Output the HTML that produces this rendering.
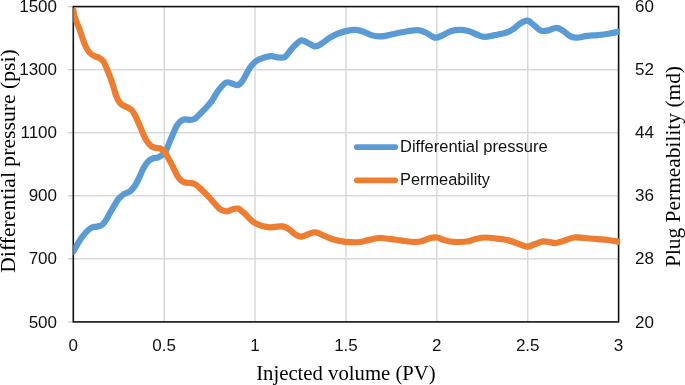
<!DOCTYPE html>
<html><head><meta charset="utf-8"><style>
html,body{margin:0;padding:0;background:#fff;width:685px;height:385px;overflow:hidden}
svg{display:block;will-change:transform}
</style></head><body>
<svg width="685" height="385" viewBox="0 0 685 385">
<rect width="685" height="385" fill="#fff"/>
<defs><clipPath id="pa"><rect x="73.30" y="7.40" width="546.80" height="314.50"/></clipPath></defs>
<g stroke="#d9d9d9" stroke-width="1.5"><line x1="164.18" y1="6.60" x2="164.18" y2="321.90"/><line x1="255.07" y1="6.60" x2="255.07" y2="321.90"/><line x1="345.95" y1="6.60" x2="345.95" y2="321.90"/><line x1="436.83" y1="6.60" x2="436.83" y2="321.90"/><line x1="527.72" y1="6.60" x2="527.72" y2="321.90"/><line x1="73.30" y1="258.84" x2="618.60" y2="258.84"/><line x1="73.30" y1="195.78" x2="618.60" y2="195.78"/><line x1="73.30" y1="132.72" x2="618.60" y2="132.72"/><line x1="73.30" y1="69.66" x2="618.60" y2="69.66"/></g>
<g stroke="#c8c8c8" stroke-width="1.2"><line x1="68" y1="321.90" x2="73.30" y2="321.90"/><line x1="68" y1="258.84" x2="73.30" y2="258.84"/><line x1="68" y1="195.78" x2="73.30" y2="195.78"/><line x1="68" y1="132.72" x2="73.30" y2="132.72"/><line x1="68" y1="69.66" x2="73.30" y2="69.66"/><line x1="68" y1="6.60" x2="73.30" y2="6.60"/></g>
<rect x="73.30" y="6.60" width="545.30" height="315.30" fill="none" stroke="#111" stroke-width="1.6"/>
<g clip-path="url(#pa)" fill="none" stroke-width="6.2" stroke-linecap="round" stroke-linejoin="round">
<path stroke="#5b9bd5" d="M73.30,251.40 C74.15,249.93 76.70,245.30 78.40,242.60 C80.10,239.90 81.80,237.35 83.50,235.20 C85.20,233.05 87.13,231.00 88.60,229.70 C90.07,228.40 90.93,227.92 92.30,227.40 C93.67,226.88 95.37,226.92 96.80,226.60 C98.23,226.28 99.68,226.13 100.90,225.50 C102.12,224.87 103.12,223.92 104.10,222.80 C105.08,221.68 105.90,220.30 106.80,218.80 C107.70,217.30 108.58,215.43 109.50,213.80 C110.42,212.17 111.50,210.38 112.30,209.00 C113.10,207.62 113.25,207.20 114.30,205.50 C115.35,203.80 117.12,200.62 118.60,198.80 C120.08,196.98 121.97,195.53 123.20,194.60 C124.43,193.67 124.75,193.82 126.00,193.20 C127.25,192.58 129.08,192.35 130.70,190.90 C132.32,189.45 134.15,187.00 135.70,184.50 C137.25,182.00 138.68,178.63 140.00,175.90 C141.32,173.17 142.28,170.48 143.60,168.10 C144.92,165.72 146.35,163.23 147.90,161.60 C149.45,159.97 151.12,159.03 152.90,158.30 C154.68,157.57 156.55,158.22 158.60,157.20 C160.65,156.18 163.45,154.55 165.20,152.20 C166.95,149.85 167.80,146.13 169.10,143.10 C170.40,140.07 171.82,136.72 173.00,134.00 C174.18,131.28 175.02,128.87 176.20,126.80 C177.38,124.73 178.68,122.83 180.10,121.60 C181.52,120.37 183.07,119.68 184.70,119.40 C186.33,119.12 188.28,119.97 189.90,119.90 C191.52,119.83 193.10,119.62 194.40,119.00 C195.70,118.38 196.07,117.75 197.70,116.20 C199.33,114.65 201.82,112.30 204.20,109.70 C206.58,107.10 209.63,103.83 212.00,100.60 C214.37,97.37 216.03,93.32 218.40,90.30 C220.77,87.28 223.82,83.58 226.20,82.50 C228.58,81.42 230.75,83.37 232.70,83.80 C234.65,84.23 236.17,85.75 237.90,85.10 C239.63,84.45 241.15,82.72 243.10,79.90 C245.05,77.08 247.62,71.18 249.60,68.20 C251.58,65.22 253.20,63.57 255.00,62.00 C256.80,60.43 257.77,59.77 260.40,58.80 C263.03,57.83 267.77,56.42 270.80,56.20 C273.83,55.98 276.22,57.40 278.60,57.50 C280.98,57.60 282.93,58.22 285.10,56.80 C287.27,55.38 289.02,51.70 291.60,49.00 C294.18,46.30 298.02,41.68 300.60,40.60 C303.18,39.52 304.72,41.53 307.10,42.50 C309.48,43.47 312.52,46.18 314.90,46.40 C317.28,46.62 319.02,45.18 321.40,43.80 C323.78,42.42 326.38,39.83 329.20,38.10 C332.02,36.37 335.20,34.65 338.30,33.40 C341.40,32.15 344.92,31.18 347.80,30.60 C350.68,30.02 353.00,29.72 355.60,29.90 C358.20,30.08 360.80,30.83 363.40,31.70 C366.00,32.57 368.60,34.32 371.20,35.10 C373.80,35.88 376.40,36.32 379.00,36.40 C381.60,36.48 383.78,36.13 386.80,35.60 C389.82,35.07 393.65,33.93 397.10,33.20 C400.55,32.47 404.03,31.72 407.50,31.20 C410.97,30.68 414.87,29.88 417.90,30.10 C420.93,30.32 423.32,31.45 425.70,32.50 C428.08,33.55 430.40,35.53 432.20,36.40 C434.00,37.27 434.70,37.92 436.50,37.70 C438.30,37.48 440.62,36.18 443.00,35.10 C445.38,34.02 447.98,32.07 450.80,31.20 C453.62,30.33 456.87,29.90 459.90,29.90 C462.93,29.90 466.18,30.43 469.00,31.20 C471.82,31.97 474.22,33.55 476.80,34.50 C479.38,35.45 481.48,36.80 484.50,36.90 C487.52,37.00 491.22,35.83 494.90,35.10 C498.58,34.37 503.57,33.50 506.60,32.50 C509.63,31.50 510.93,30.53 513.10,29.10 C515.27,27.67 517.43,25.28 519.60,23.90 C521.77,22.52 524.52,21.23 526.10,20.80 C527.68,20.37 527.73,20.52 529.10,21.30 C530.47,22.08 532.35,23.95 534.30,25.50 C536.25,27.05 538.63,29.75 540.80,30.60 C542.97,31.45 544.70,31.07 547.30,30.60 C549.90,30.13 553.80,27.80 556.40,27.80 C559.00,27.80 560.53,29.17 562.90,30.60 C565.27,32.03 568.23,35.22 570.60,36.40 C572.97,37.58 574.28,37.80 577.10,37.70 C579.92,37.60 584.03,36.23 587.50,35.80 C590.97,35.37 594.43,35.43 597.90,35.10 C601.37,34.77 604.83,34.38 608.30,33.80 C611.77,33.22 616.97,31.97 618.70,31.60"/>
<path stroke="#ed7d31" d="M73.30,9.60 C73.52,10.78 73.88,14.22 74.60,16.70 C75.32,19.18 76.73,22.28 77.60,24.50 C78.47,26.72 78.92,27.53 79.80,30.00 C80.68,32.47 81.87,36.45 82.90,39.30 C83.93,42.15 84.83,44.82 86.00,47.10 C87.17,49.38 88.47,51.48 89.90,53.00 C91.33,54.52 93.03,55.37 94.60,56.20 C96.17,57.03 97.87,57.17 99.30,58.00 C100.73,58.83 102.03,59.63 103.20,61.20 C104.37,62.77 105.27,65.07 106.30,67.40 C107.33,69.73 108.37,72.48 109.40,75.20 C110.43,77.92 111.67,81.20 112.50,83.70 C113.33,86.20 113.75,88.08 114.40,90.20 C115.05,92.32 115.63,94.50 116.40,96.40 C117.17,98.30 117.95,100.12 119.00,101.60 C120.05,103.08 121.32,104.35 122.70,105.30 C124.08,106.25 125.83,106.53 127.30,107.30 C128.77,108.07 130.28,108.68 131.50,109.90 C132.72,111.12 133.55,112.72 134.60,114.60 C135.65,116.48 136.75,118.88 137.80,121.20 C138.85,123.52 139.87,126.07 140.90,128.50 C141.93,130.93 142.97,133.63 144.00,135.80 C145.03,137.97 145.88,139.77 147.10,141.50 C148.32,143.23 149.82,145.12 151.30,146.20 C152.78,147.28 154.53,147.63 156.00,148.00 C157.47,148.37 158.62,147.68 160.10,148.40 C161.58,149.12 163.62,150.83 164.90,152.30 C166.18,153.77 166.84,155.52 167.80,157.20 C168.76,158.88 169.58,160.35 170.65,162.40 C171.72,164.45 173.11,167.20 174.25,169.50 C175.39,171.80 176.44,174.47 177.50,176.20 C178.56,177.93 179.47,178.88 180.60,179.90 C181.73,180.92 182.75,181.78 184.30,182.30 C185.85,182.82 188.32,182.78 189.90,183.00 C191.48,183.22 192.63,183.20 193.80,183.60 C194.97,184.00 195.85,184.60 196.90,185.40 C197.95,186.20 199.23,187.60 200.10,188.40 C200.97,189.20 200.72,188.85 202.10,190.20 C203.48,191.55 206.32,194.28 208.40,196.50 C210.48,198.72 212.53,201.30 214.60,203.50 C216.67,205.70 218.72,208.40 220.80,209.70 C222.88,211.00 225.02,211.42 227.10,211.30 C229.18,211.18 231.48,209.45 233.30,209.00 C235.12,208.55 236.57,208.22 238.00,208.60 C239.43,208.98 240.70,210.40 241.90,211.30 C243.10,212.20 243.78,212.63 245.20,214.00 C246.62,215.37 248.67,217.93 250.40,219.50 C252.13,221.07 253.65,222.32 255.60,223.40 C257.55,224.48 259.72,225.35 262.10,226.00 C264.48,226.65 267.30,227.20 269.90,227.30 C272.50,227.40 275.53,226.75 277.70,226.60 C279.87,226.45 281.17,226.07 282.90,226.40 C284.63,226.73 286.17,227.37 288.10,228.60 C290.03,229.83 292.38,232.47 294.50,233.80 C296.62,235.13 298.53,236.53 300.80,236.60 C303.07,236.67 305.60,234.92 308.10,234.20 C310.60,233.48 313.00,231.97 315.80,232.30 C318.60,232.63 321.65,234.90 324.90,236.20 C328.15,237.50 331.83,239.15 335.30,240.10 C338.77,241.05 341.52,241.58 345.70,241.90 C349.88,242.22 356.65,242.30 360.40,242.00 C364.15,241.70 365.17,240.77 368.20,240.10 C371.23,239.43 375.13,238.22 378.60,238.00 C382.07,237.78 385.10,238.37 389.00,238.80 C392.90,239.23 397.67,240.07 402.00,240.60 C406.33,241.13 411.55,241.95 415.00,242.00 C418.45,242.05 420.12,241.57 422.70,240.90 C425.28,240.23 428.12,238.57 430.50,238.00 C432.88,237.43 434.83,237.18 437.00,237.50 C439.17,237.82 441.33,239.23 443.50,239.90 C445.67,240.57 447.55,241.15 450.00,241.50 C452.45,241.85 455.10,242.05 458.20,242.00 C461.30,241.95 465.57,241.73 468.60,241.20 C471.63,240.67 473.58,239.42 476.40,238.80 C479.22,238.18 482.05,237.53 485.50,237.50 C488.95,237.47 493.43,238.17 497.10,238.60 C500.77,239.03 504.03,239.27 507.50,240.10 C510.97,240.93 514.57,242.52 517.90,243.60 C521.23,244.68 524.77,246.48 527.50,246.60 C530.23,246.72 531.72,245.17 534.30,244.30 C536.88,243.43 540.38,241.75 543.00,241.40 C545.62,241.05 547.80,241.93 550.00,242.20 C552.20,242.47 553.87,243.27 556.20,243.00 C558.53,242.73 561.00,241.52 564.00,240.60 C567.00,239.68 570.78,237.93 574.20,237.50 C577.62,237.07 580.62,237.73 584.50,238.00 C588.38,238.27 593.60,238.77 597.50,239.10 C601.40,239.43 604.35,239.55 607.90,240.00 C611.45,240.45 616.98,241.50 618.80,241.80"/>
</g>
<g style="font-family:'Liberation Sans',sans-serif;font-size:17px;fill:#111"><text x="57" y="327.50" text-anchor="end">500</text><text x="57" y="264.44" text-anchor="end">700</text><text x="57" y="201.38" text-anchor="end">900</text><text x="57" y="138.32" text-anchor="end">1100</text><text x="57" y="75.26" text-anchor="end">1300</text><text x="57" y="12.20" text-anchor="end">1500</text><text x="73.30" y="350.8" text-anchor="middle">0</text><text x="164.18" y="350.8" text-anchor="middle">0.5</text><text x="255.07" y="350.8" text-anchor="middle">1</text><text x="345.95" y="350.8" text-anchor="middle">1.5</text><text x="436.83" y="350.8" text-anchor="middle">2</text><text x="527.72" y="350.8" text-anchor="middle">2.5</text><text x="618.60" y="350.8" text-anchor="middle">3</text><text x="635" y="327.50">20</text><text x="635" y="264.44">28</text><text x="635" y="201.38">36</text><text x="635" y="138.32">44</text><text x="635" y="75.26">52</text><text x="635" y="12.20">60</text></g>
<g stroke-width="5.8" stroke-linecap="round">
<line x1="356.8" y1="147.1" x2="395.2" y2="147.1" stroke="#5b9bd5"/>
<line x1="356.8" y1="180.3" x2="395.2" y2="180.3" stroke="#ed7d31"/>
</g>
<g style="font-family:'Liberation Sans',sans-serif;font-size:16.3px;fill:#111">
<text x="400" y="152" textLength="147.6" lengthAdjust="spacingAndGlyphs">Differential pressure</text>
<text x="400" y="185" textLength="90" lengthAdjust="spacingAndGlyphs">Permeability</text>
</g>
<g style="font-family:'Liberation Serif',serif;font-size:20.7px;fill:#000">
<text x="256.2" y="379.8" textLength="179.5" lengthAdjust="spacingAndGlyphs">Injected volume (PV)</text>
<text transform="translate(15.1,272.8) rotate(-90)" x="0" y="0" textLength="223.6" lengthAdjust="spacingAndGlyphs">Differential pressure (psi)</text>
<text transform="translate(679.7,267.0) rotate(-90)" x="0" y="0" style="font-size:21.2px" textLength="201" lengthAdjust="spacingAndGlyphs">Plug Permeability (md)</text>
</g>
</svg>
</body></html>
